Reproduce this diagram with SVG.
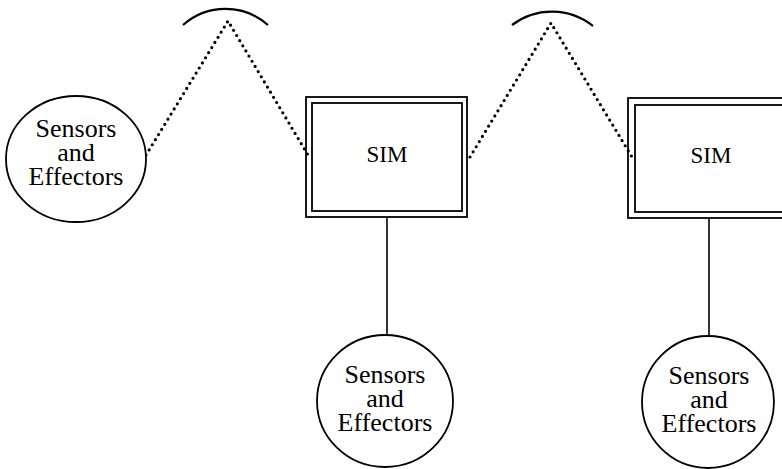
<svg xmlns="http://www.w3.org/2000/svg" width="782" height="469" viewBox="0 0 782 469">
  <style>
    .node { fill: #fff; stroke: #000; stroke-width: 1.8; }
    .frame { fill: none; stroke: #000; stroke-width: 1.8; }
    .label { font-family: "Liberation Serif", "Times New Roman", serif; font-size: 26px; fill: #000; text-anchor: middle; }
    .sim { font-family: "Liberation Serif", "Times New Roman", serif; font-size: 23px; fill: #000; text-anchor: middle; }
    .wire { fill: none; stroke: #000; stroke-width: 1.6; }
    .radio { fill: none; stroke: #000; stroke-width: 3.2; stroke-linecap: round; stroke-dasharray: 0 6; }
    .sky { fill: none; stroke: #000; stroke-width: 2.2; }
  </style>

  <!-- links: wireless hops via overhead relays, wired drops to local sensors -->
  <g id="connectors">
    <path class="sky" d="M183,25 A64,64 0 0 1 268,25"/>
    <path class="sky" d="M512,25 A66,66 0 0 1 593,26"/>
    <polyline class="radio" points="146,155 228,21 308,155"/>
    <polyline class="radio" points="470,157 551,23 632,157"/>
    <line class="wire" x1="387" y1="217" x2="387" y2="335"/>
    <line class="wire" x1="709" y1="218" x2="709" y2="335"/>
  </g>

  <g id="sensors-left">
    <ellipse class="node" cx="76" cy="159" rx="70" ry="63"/>
    <text class="label" x="76" y="137">Sensors<tspan x="76" dy="24">and</tspan><tspan x="76" dy="24">Effectors</tspan></text>
  </g>

  <g id="sim-1">
    <rect class="frame" x="306" y="97" width="161" height="120"/>
    <rect class="frame" x="312" y="103" width="150" height="108"/>
    <text class="sim" x="387" y="162">SIM</text>
  </g>

  <g id="sim-2">
    <rect class="frame" x="628" y="98" width="164" height="120"/>
    <rect class="frame" x="635" y="105" width="152" height="107"/>
    <text class="sim" x="711" y="163">SIM</text>
  </g>

  <g id="sensors-mid">
    <ellipse class="node" cx="385" cy="401" rx="68" ry="66"/>
    <text class="label" x="385" y="383">Sensors<tspan x="385" dy="24">and</tspan><tspan x="385" dy="24">Effectors</tspan></text>
  </g>

  <g id="sensors-right">
    <ellipse class="node" cx="708" cy="402" rx="66" ry="66"/>
    <text class="label" x="709" y="384">Sensors<tspan x="709" dy="24">and</tspan><tspan x="709" dy="24">Effectors</tspan></text>
  </g>
</svg>
